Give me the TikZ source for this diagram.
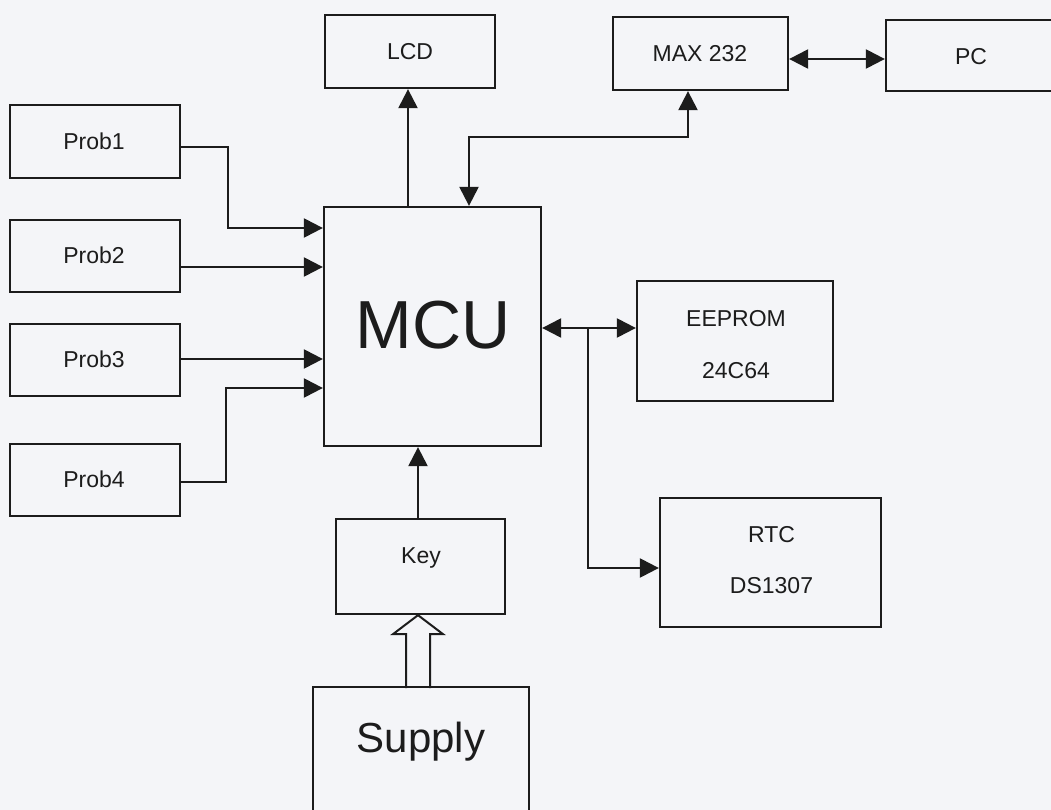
\documentclass[tikz,border=0pt]{standalone}
\usepackage{fontspec}
\setmainfont{Liberation Sans}
\usetikzlibrary{arrows.meta,calc}
\definecolor{ink}{HTML}{1C1C1C}
\definecolor{paper}{HTML}{F4F5F8}
\begin{document}
\begin{tikzpicture}[x=1pt,y=-1pt,
  box/.style={draw=ink, line width=2.3pt, inner sep=0pt},
  lbl/.style={anchor=base, text=ink, inner sep=0pt, font=\fontsize{23}{28}\selectfont},
  link/.style={draw=ink, line width=2.3pt, line join=miter},
  tip/.style={-{Triangle[length=19pt,width=19pt,fill=ink]}},
  tips/.style={{Triangle[length=19pt,width=19pt,fill=ink]}-{Triangle[length=19pt,width=19pt,fill=ink]}},
  blockarr/.style={draw=ink, line width=2pt, line join=miter}
]
\useasboundingbox (0,0) rectangle (1051,810);
\fill[paper] (0,0) rectangle (1051,810);
\clip (0,0) rectangle (1051,810);

% boxes
\node[box, minimum width=170pt, minimum height=73pt] (p1) at (95,141.5) {};
\node[box, minimum width=170pt, minimum height=72pt] (p2) at (95,256) {};
\node[box, minimum width=170pt, minimum height=72pt] (p3) at (95,360) {};
\node[box, minimum width=170pt, minimum height=72pt] (p4) at (95,480) {};
\node[box, minimum width=217pt, minimum height=239pt] (mcu) at (432.5,326.5) {};
\node[box, minimum width=170pt, minimum height=73pt] (lcd) at (410,51.5) {};
\node[box, minimum width=175pt, minimum height=73pt] (max) at (700.5,53.5) {};
\node[box, minimum width=167pt, minimum height=71pt] (pc) at (969.5,55.5) {};
\node[box, minimum width=196pt, minimum height=120pt] (eeprom) at (735,341) {};
\node[box, minimum width=221pt, minimum height=129pt] (rtc) at (770.5,562.5) {};
\node[box, minimum width=169pt, minimum height=95pt] (key) at (420.5,566.5) {};
\node[box, minimum width=216pt, minimum height=143pt] (supply) at (421,758.5) {};

% labels
\node[lbl] (t1) at (94,150) {Prob1};
\node[lbl] (t2) at (94,263.5) {Prob2};
\node[lbl] (t3) at (94,367.5) {Prob3};
\node[lbl] (t4) at (94,487.5) {Prob4};
\node[lbl] (tlcd) at (410,60) {LCD};
\node[lbl] (tmax) at (700,62) {MAX 232};
\node[lbl] (tpc) at (971,65) {PC};
\node[lbl, font=\fontsize{68}{80}\selectfont] (tmcu) at (433,348) {MCU};
\node[lbl] (te1) at (736,326) {EEPROM};
\node[lbl] (te2) at (736,378) {24C64};
\node[lbl] (tr1) at (771.5,542) {RTC};
\node[lbl] (tr2) at (771.5,593) {DS1307};
\node[lbl] (tkey) at (421,563) {Key};
\node[lbl, font=\fontsize{42}{50}\selectfont] (tsup) at (421,752) {Supply};

% probe connectors
\draw[link, tip] (p1.east |- 0,147) -- (228,147) -- (228,228) -- (mcu.west |- 0,228);
\draw[link, tip] (p2.east |- 0,267) -- (mcu.west |- 0,267);
\draw[link, tip] (p3.east |- 0,359) -- (mcu.west |- 0,359);
\draw[link, tip] (p4.east |- 0,482) -- (226,482) -- (226,388) -- (mcu.west |- 0,388);

% MCU to LCD
\draw[link, tip] (mcu.north -| 408,0) -- (lcd.south -| 408,0);
% MCU <-> MAX 232
\draw[link, tips] (mcu.north -| 469,0) -- (469,137) -- (688,137) -- (max.south -| 688,0);
% MAX 232 <-> PC
\draw[link, tips] (max.east |- 0,59) -- (pc.west |- 0,59);
% MCU <-> EEPROM
\draw[link, tips] (mcu.east |- 0,328) -- (eeprom.west |- 0,328);
% branch to RTC
\coordinate (br) at (588,328);
\draw[link, tip] (br) -- (588,568) -- (rtc.west |- 0,568);
% Key -> MCU
\draw[link, tip] ([xshift=-2.5pt]key.north) -- ([xshift=-2.5pt]key.north |- mcu.south);
% Supply => Key (hollow block arrow)
\coordinate (ktip) at ([xshift=-2.5pt]key.south);
\draw[blockarr] ($(ktip)+(-12,73)$) -- ($(ktip)+(-12,19)$) -- ($(ktip)+(-25,19)$) -- (ktip)
  -- ($(ktip)+(25,19)$) -- ($(ktip)+(12,19)$) -- ($(ktip)+(12,73)$);
\end{tikzpicture}
\end{document}
